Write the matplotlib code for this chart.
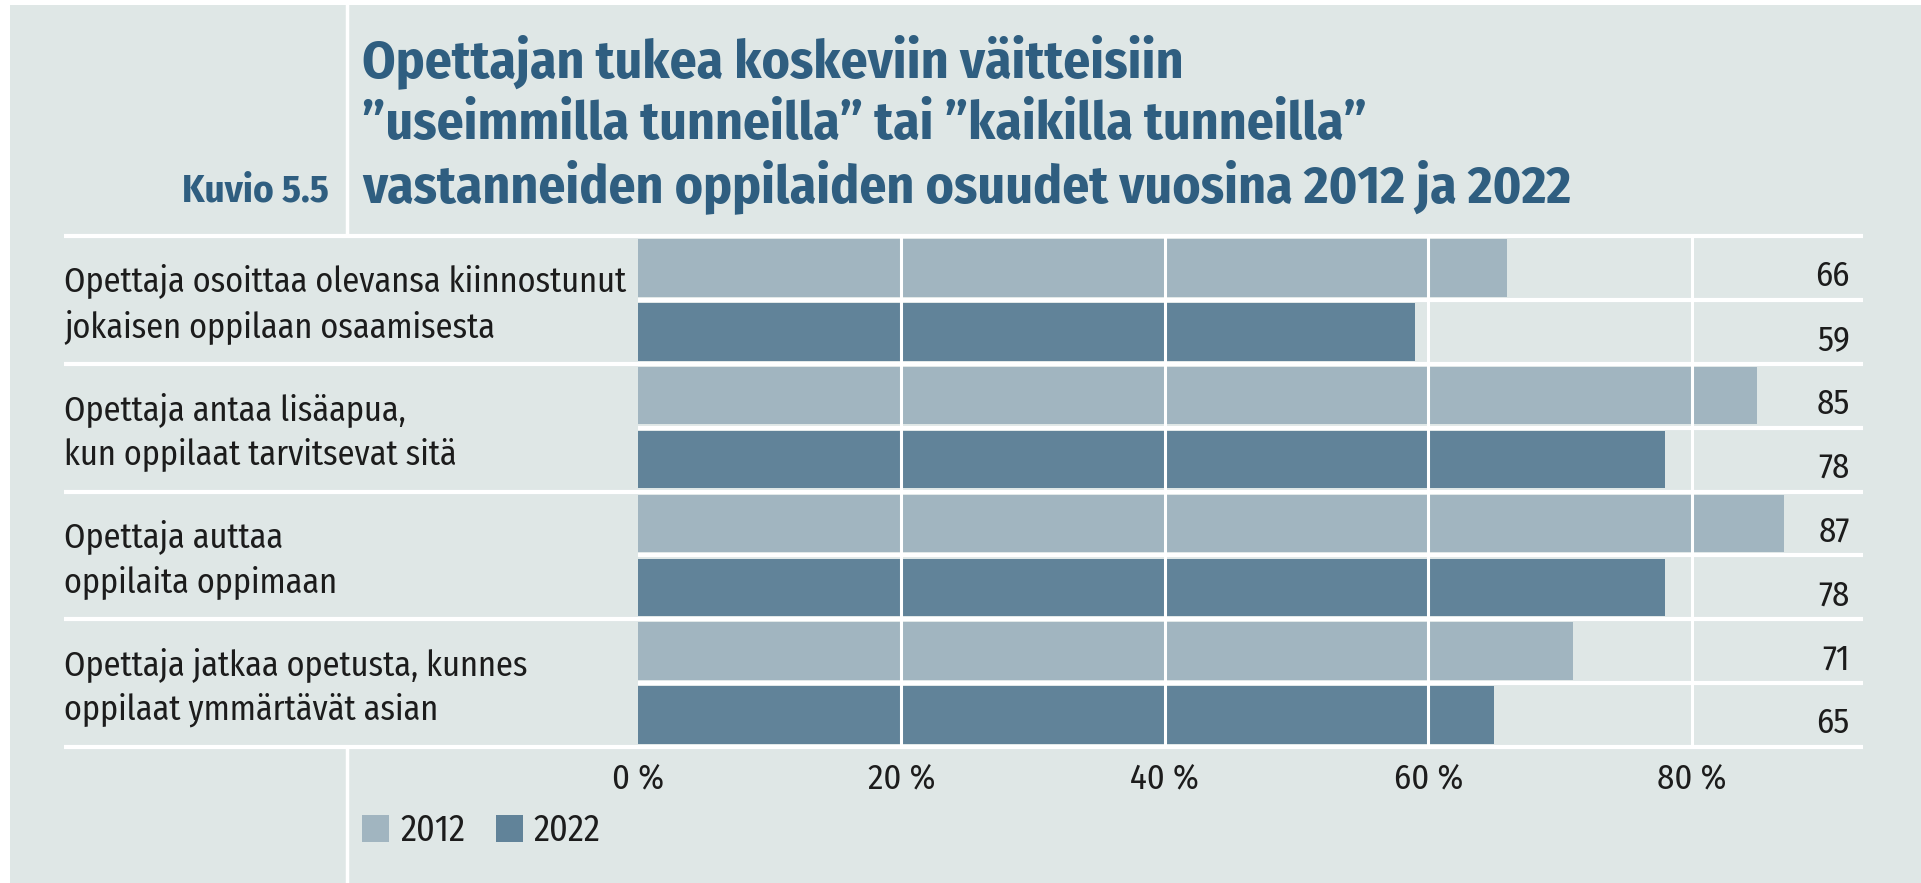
import matplotlib
matplotlib.use("Agg")
import matplotlib.pyplot as plt
from matplotlib import font_manager as fm
from matplotlib.patches import Rectangle

# pick a condensed humanist font if one is installed
avail = {f.name for f in fm.fontManager.ttflist}
FONT = "DejaVu Sans"
for cand in ["Fira Sans Condensed", "PT Sans Narrow", "Roboto Condensed", "Asap Condensed", "Archivo Narrow"]:
    if cand in avail:
        FONT = cand
        break
plt.rcParams["font.family"] = [FONT, "DejaVu Sans"]

# data
statements = [
    "Opettaja osoittaa olevansa kiinnostunut\njokaisen oppilaan osaamisesta",
    "Opettaja antaa lisäapua,\nkun oppilaat tarvitsevat sitä",
    "Opettaja auttaa\noppilaita oppimaan",
    "Opettaja jatkaa opetusta, kunnes\noppilaat ymmärtävät asian",
]
years = ["2012", "2022"]
values_2012 = [66, 85, 87, 71]
values_2022 = [59, 78, 78, 65]
ticks = [0, 20, 40, 60, 80]
tick_labels = ["0 %", "20 %", "40 %", "60 %", "80 %"]

BG = "#dfe7e6"
LIGHT = "#a1b5c0"
DARK = "#618399"
TITLE_C = "#2f5e80"
TXT = "#1c1c1c"

W, H = 1921, 883
fig = plt.figure(figsize=(W / 100, H / 100), dpi=100)
fig.patch.set_facecolor("white")

# decoration layer in pixel coordinates
deco = fig.add_axes([0, 0, 1, 1], zorder=0)
deco.set_xlim(0, W)
deco.set_ylim(H, 0)
deco.axis("off")
deco.add_patch(Rectangle((10, 5), W - 10, H - 5, color=BG, lw=0))
deco.plot([347, 347], [5, 235], color="white", lw=2.5)
deco.plot([347, 347], [747, H], color="white", lw=2.5)

title_lines = [
    "Opettajan tukea koskeviin väitteisiin",
    "”useimmilla tunneilla” tai ”kaikilla tunneilla”",
    "vastanneiden oppilaiden osuudet vuosina 2012 ja 2022",
]
for line, yb in zip(title_lines, [77, 139, 202]):
    deco.text(362, yb, line, fontsize=38.5, fontweight="bold", color=TITLE_C, va="baseline", ha="left")
deco.text(329, 202, "Kuvio 5.5", fontsize=28, fontweight="bold", color=TITLE_C, va="baseline", ha="right")

# bar axes
x0, x1, y0, y1 = 638, 1863, 236, 747
ax = fig.add_axes([x0 / W, 1 - y1 / H, (x1 - x0) / W, (y1 - y0) / H], zorder=1)
ax.patch.set_alpha(0)
ax.set_xlim(0, (x1 - x0) / 13.17)
ax.set_ylim(8, 0)
for s in ax.spines.values():
    s.set_visible(False)

pos_2012 = [2 * i + 0.5 for i in range(len(statements))]
pos_2022 = [2 * i + 1.5 for i in range(len(statements))]
b1 = ax.barh(pos_2012, values_2012, height=0.9, color=LIGHT, label=years[0], zorder=2)
b2 = ax.barh(pos_2022, values_2022, height=0.9, color=DARK, label=years[1], zorder=2)

for t in ticks[1:]:
    ax.axvline(t, color="white", lw=2.2, zorder=3)

ytr = ax.get_yaxis_transform()
for k in range(9):
    xmin = (64 - x0) / (x1 - x0) if k % 2 == 0 else 0
    ax.hlines(k, xmin, 1, transform=ytr, color="white", lw=3, clip_on=False, zorder=4)

for i, lab in enumerate(statements):
    ax.text((64 - x0) / (x1 - x0), 2 * i + 1.06, lab, transform=ytr, ha="left", va="center",
            fontsize=24.6, color=TXT, linespacing=1.4)

for p, v in zip(pos_2012 + pos_2022, values_2012 + values_2022):
    ax.text(92, p + 0.13, str(v), ha="right", va="center", fontsize=25, color=TXT)

ax.set_yticks([])
ax.set_xticks(ticks)
ax.set_xticklabels(tick_labels, fontsize=25, color=TXT)
ax.tick_params(axis="x", length=0, pad=11)

fig.legend(handles=[b1, b2], labels=years, loc="upper left",
           bbox_to_anchor=(362 / W, 1 - 813 / H), frameon=False, ncol=2,
           fontsize=26, handlelength=0.75, handleheight=0.75,
           handletextpad=0.3, columnspacing=0.85, labelcolor=TXT,
           borderpad=0, borderaxespad=0)

fig.savefig("out.png", dpi=100, facecolor=fig.get_facecolor())
